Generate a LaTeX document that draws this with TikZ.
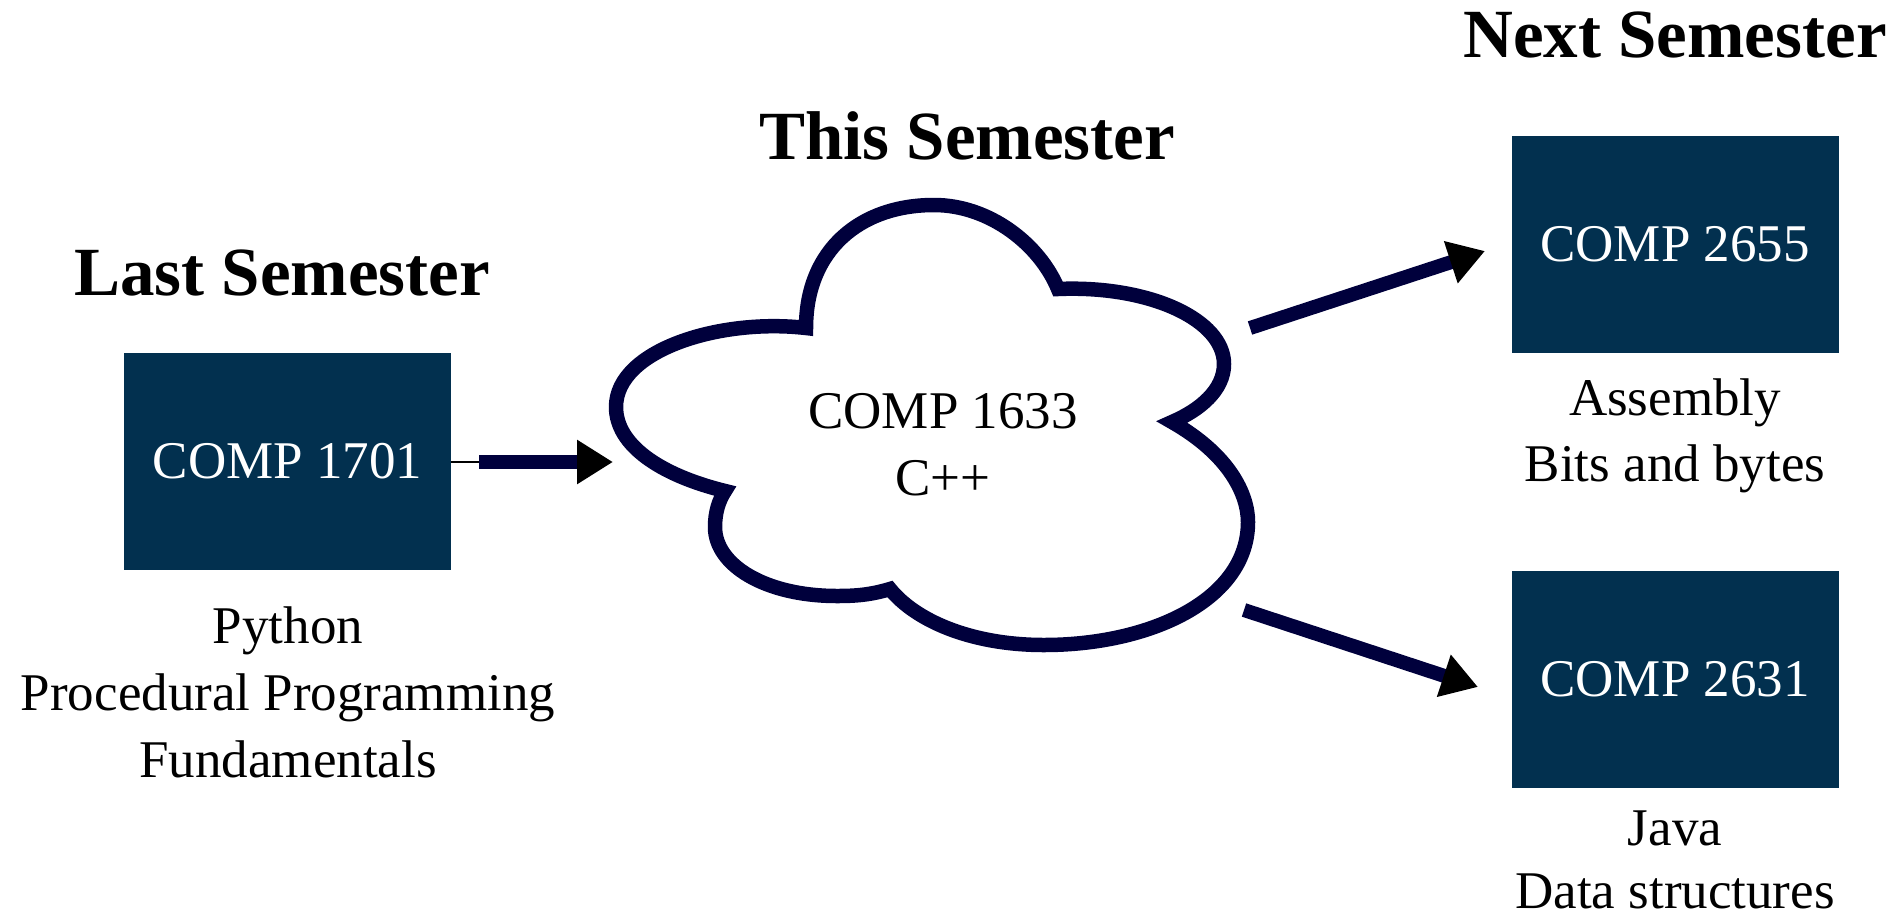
\documentclass[tikz,border=0pt]{standalone}
\usepackage{fontspec}
\setmainfont{Liberation Serif}
\usetikzlibrary{arrows.meta}
\definecolor{boxblue}{RGB}{2,48,79}
\definecolor{navy}{RGB}{0,0,60}
\begin{document}
\begin{tikzpicture}[x=1pt,y=-1pt,
  course/.style={fill=boxblue, draw=none, minimum width=327pt, minimum height=217pt, inner sep=0pt, text=white, font=\fontsize{53}{64}\selectfont},
  lbl/.style={anchor=base, font=\fontsize{53}{64}\selectfont, inner sep=0pt},
  ttl/.style={anchor=base, font=\fontsize{69}{80}\selectfont\bfseries, inner sep=0pt},
  flow/.style={draw=navy, line width=14pt, -{Triangle[length=36pt,width=42pt,color=black,fill=black]}},
  cloudline/.style={draw=navy, line width=14.5pt, fill=white, line join=miter}]
\useasboundingbox (0,0) rectangle (1903,916);

% titles
\node[ttl] (tlast) at (282,295) {Last Semester};
\node[ttl] (tthis) at (967,159) {This Semester};
\node[ttl] (tnext) at (1675,57) {Next Semester};

% cloud
\draw[cloudline] (806,328)
  .. controls (806,250) and (860,205) .. (934,205)
  .. controls (990,205) and (1040,245) .. (1058,289)
  .. controls (1150,285) and (1224,320) .. (1224,364)
  .. controls (1224,390) and (1200,410) .. (1172,422)
  .. controls (1230,455) and (1248,495) .. (1248,522)
  .. controls (1248,600) and (1150,645) .. (1044,645)
  .. controls (970,645) and (915,620) .. (890,589)
  .. controls (870,595) and (855,596) .. (837,596)
  .. controls (765,596) and (715,565) .. (715,527)
  .. controls (715,512) and (719,500) .. (725,491)
  .. controls (660,475) and (616,445) .. (616,407)
  .. controls (616,350) and (720,318) .. (806,328) -- cycle;
\node[lbl] (cloud) at (943,428) {COMP 1633};
\node[lbl] (cloudlang) at (943,495) {C++};

% boxes
\node[course] (c1701) at (287.5,461.5) {COMP 1701};
\node[course] (c2655) at (1675,244) {COMP 2655};
\node[course] (c2631) at (1675,679.5) {COMP 2631};

% labels
\node[lbl] (l1a) at (288,643) {Python};
\node[lbl] (l1b) at (288,710) {Procedural Programming};
\node[lbl] (l1c) at (288,777) {Fundamentals};
\node[lbl] (l2a) at (1675,415) {Assembly};
\node[lbl] (l2b) at (1675,481) {Bits and bytes};
\node[lbl] (l3a) at (1675,845) {Java};
\node[lbl] (l3b) at (1675,908) {Data structures};

% connectors
\coordinate (a1s) at (479,462);
\coordinate (a1e) at (613,462);
\coordinate (a2s) at (1250,328);
\coordinate (a2e) at (1485,251);
\coordinate (a3s) at (1244,610);
\coordinate (a3e) at (1478,687);
\draw[line width=1.5pt, black] (c1701.east |- a1s) -- (a1s);
\draw[flow] (a1s) -- (a1e);
\draw[flow] (a2s) -- (a2e);
\draw[flow] (a3s) -- (a3e);
\end{tikzpicture}
\end{document}
